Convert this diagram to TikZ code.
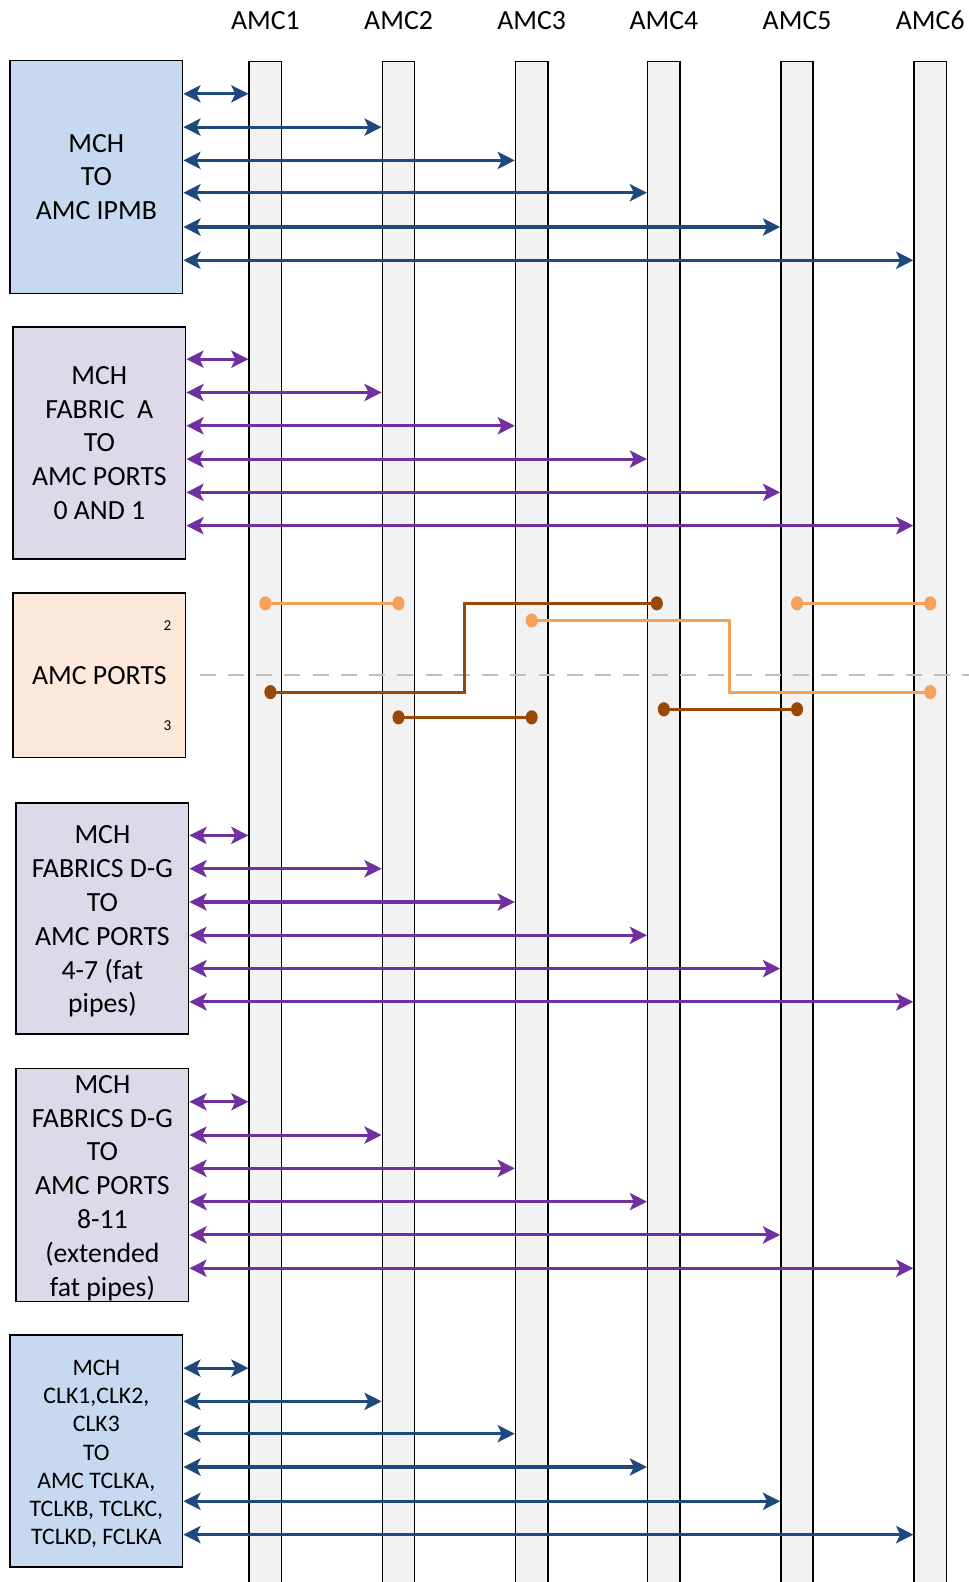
\documentclass[tikz,border=0pt]{standalone}
\usepackage{fontspec}
\setmainfont{Carlito}
\usetikzlibrary{arrows.meta,calc}
\definecolor{ipmbfill}{RGB}{198,217,241}
\definecolor{fabfill}{RGB}{221,217,232}
\definecolor{portfill}{RGB}{252,233,219}
\definecolor{barfill}{RGB}{242,242,242}
\definecolor{arrblue}{RGB}{31,73,125}
\definecolor{arrpurple}{RGB}{112,48,160}
\definecolor{lightor}{RGB}{247,160,90}
\definecolor{darkbr}{RGB}{152,72,7}
\definecolor{dashgrey}{RGB}{191,191,191}
\begin{document}
\begin{tikzpicture}[x=1pt,y=-1pt,
  bar/.style={draw=black,line width=1.5pt,fill=barfill,minimum width=32pt,minimum height=1560pt,inner sep=0pt,anchor=north},
  amclabel/.style={font=\fontsize{27.5}{30}\selectfont,inner sep=0pt},
  mbox/.style={draw=black,line width=1.5pt,inner sep=0pt,minimum width=171pt},
  mtext/.style={inner sep=0pt,align=center,font=\fontsize{27.5}{33.5}\selectfont},
  barr/.style={draw=arrblue,line width=3pt,{Stealth[length=17pt,width=17pt,inset=4pt]}-{Stealth[length=17pt,width=17pt,inset=4pt]}},
  parr/.style={draw=arrpurple,line width=3pt,{Stealth[length=17pt,width=17pt,inset=4pt]}-{Stealth[length=17pt,width=17pt,inset=4pt]}},
  lor/.style={draw=lightor,line width=3pt},
  brn/.style={draw=darkbr,line width=3pt},
  lordot/.style={fill=lightor},
  brndot/.style={fill=darkbr}
]
\useasboundingbox (0,0) rectangle (960,1568);

% AMC bars
\foreach \i/\x in {1/263,2/395,3/527,4/658,5/790,6/922}{
  \node[bar] (b\i) at (\x,60) {};
  \node[amclabel] (l\i) at (\x,20) {AMC\i};
}

% Boxes
\node[mbox,fill=ipmbfill,minimum height=231pt] (ipmb) at (95.5,175.5) {};
\node[mtext] (ipmbt) at (ipmb.center) {MCH\\TO\\AMC IPMB};
\node[mbox,fill=fabfill,minimum height=230pt] (faba) at (98.5,439) {};
\node[mtext] (fabat) at (faba.center) {MCH\\FABRIC~~A\\TO\\AMC PORTS\\0 AND 1};
\node[mbox,fill=portfill,minimum height=163pt] (ports) at (98.5,669.5) {};
\node[mtext] (portst) at (ports.center) {AMC PORTS};
\node[font=\fontsize{15}{15}\selectfont,inner sep=0pt] (p2) at (166,620) {2};
\node[font=\fontsize{15}{15}\selectfont,inner sep=0pt] (p3) at (166,719) {3};
\node[mbox,fill=fabfill,minimum height=229pt] (fabd) at (101.5,910.5) {};
\node[mtext] (fabdt) at ($(fabd.center)+(0,3)$) {MCH\\FABRICS D-G\\TO\\AMC PORTS\\4-7 (fat\\pipes)};
\node[mbox,fill=fabfill,minimum height=231pt] (fabe) at (101.5,1174.5) {};
\node[mtext] (fabet) at ($(fabe.center)+(0,3)$) {MCH\\FABRICS D-G\\TO\\AMC PORTS\\8-11\\(extended\\fat pipes)};
\node[mbox,fill=ipmbfill,minimum height=230pt] (clk) at (95.5,1438) {};
\node[mtext,font=\fontsize{23.5}{28}\selectfont] (clkt) at ($(clk.center)+(0,3)$) {MCH\\CLK1,CLK2,\\CLK3\\TO\\AMC TCLKA,\\TCLKB, TCLKC,\\TCLKD, FCLKA};

% Arrows
\foreach \i/\y in {1/93,2/126,3/159,4/191,5/225,6/258}
  \draw[barr] (ipmb.east |- 0,\y) -- (b\i.west |- 0,\y);
\foreach \i/\y in {1/356,2/389,3/422,4/455,5/488,6/521}
  \draw[parr] (faba.east |- 0,\y) -- (b\i.west |- 0,\y);
\foreach \i/\y in {1/828,2/861,3/894,4/927,5/960,6/993}
  \draw[parr] (fabd.east |- 0,\y) -- (b\i.west |- 0,\y);
\foreach \i/\y in {1/1092,2/1125,3/1158,4/1191,5/1224,6/1257}
  \draw[parr] (fabe.east |- 0,\y) -- (b\i.west |- 0,\y);
\foreach \i/\y in {1/1356,2/1389,3/1421,4/1454,5/1488,6/1521}
  \draw[barr] (clk.east |- 0,\y) -- (b\i.west |- 0,\y);

% Dashed separator
\coordinate (s1) at ($(ports.east |- 0,669)+(13,0)$);
\coordinate (s2) at (960,669);
\draw[dashgrey,line width=1.5pt,dash pattern=on 16pt off 12pt] (s1) -- (s2);

% Port connections
\coordinate (a1) at (b1.center |- 0,598);
\coordinate (a2) at (b2.center |- 0,598);
\coordinate (a3) at ($(b4.center |- 0,598)+(-7,0)$);
\coordinate (a4) at (460,598);
\coordinate (a5) at (460,686);
\coordinate (a6) at ($(b1.center |- 0,686)+(5,0)$);
\coordinate (c1) at (b3.center |- 0,615);
\coordinate (c2) at (723,615);
\coordinate (c3) at (723,686);
\coordinate (c4) at (b6.center |- 0,686);
\coordinate (d1) at (b5.center |- 0,598);
\coordinate (d2) at (b6.center |- 0,598);
\coordinate (e1) at (b2.center |- 0,711);
\coordinate (e2) at (b3.center |- 0,711);
\coordinate (f1) at (b4.center |- 0,703);
\coordinate (f2) at (b5.center |- 0,703);

\draw[lor] (a1) -- (a2);
\draw[brn] (a3) -- (a4) -- (a5) -- (a6);
\draw[lor] (c1) -- (c2) -- (c3) -- (c4);
\draw[lor] (d1) -- (d2);
\draw[brn] (e1) -- (e2);
\draw[brn] (f1) -- (f2);
\foreach \p in {a1,a2,c1,c4,d1,d2}
  \fill[lordot] (\p) ellipse[x radius=6pt,y radius=7pt];
\foreach \p in {a3,a6,e1,e2,f1,f2}
  \fill[brndot] (\p) ellipse[x radius=6pt,y radius=7pt];
\end{tikzpicture}
\end{document}
